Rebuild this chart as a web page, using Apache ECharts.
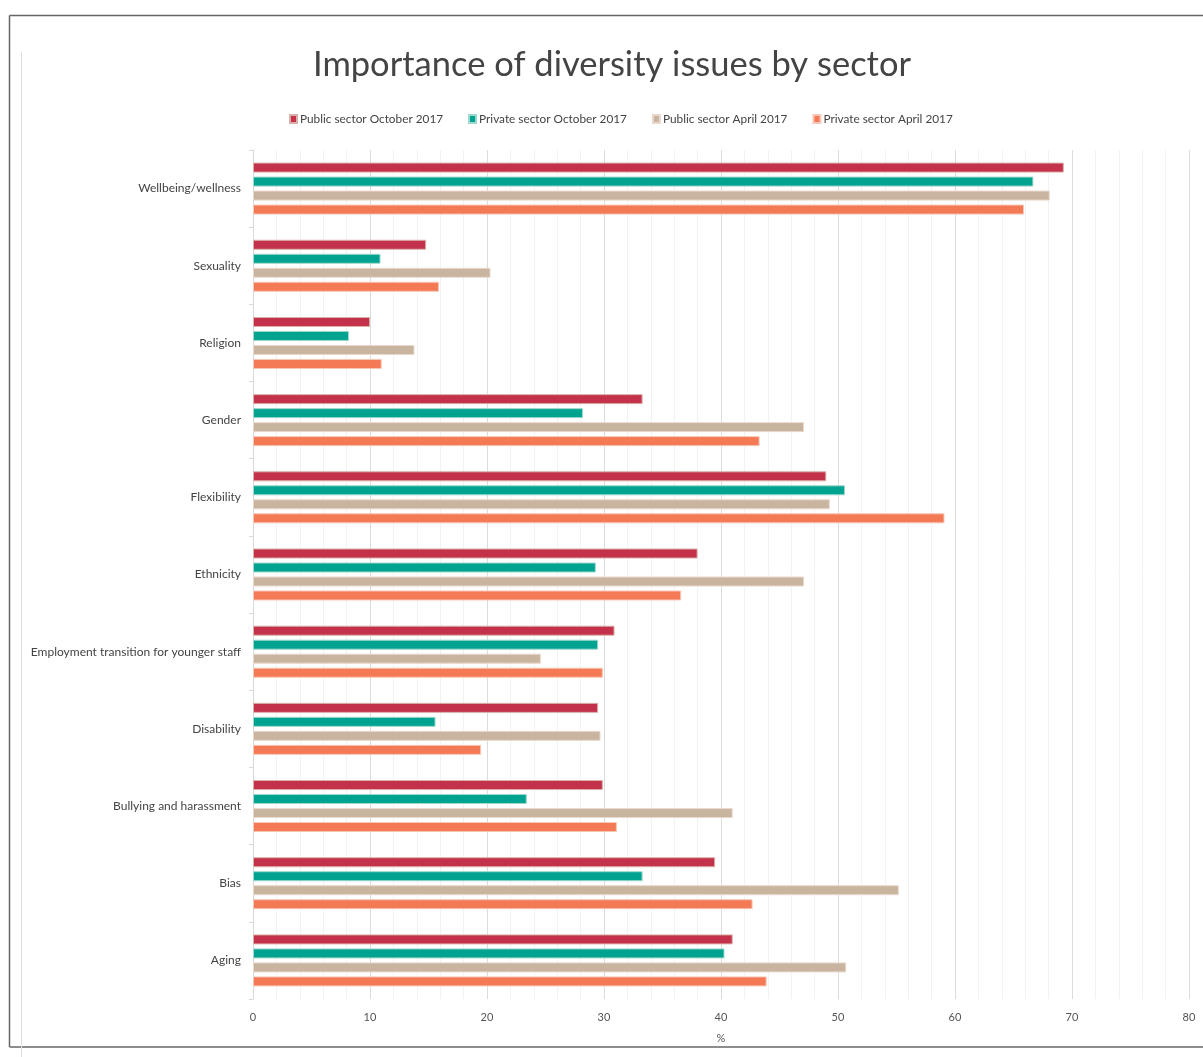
<!DOCTYPE html>
<html>
<head>
<meta charset="utf-8">
<script src="https://cdn.jsdelivr.net/npm/echarts@6/dist/echarts.min.js"></script>
<style>
html,body{margin:0;padding:0;background:#fff;}
#chart{width:1203px;height:1057px;}
</style>
</head>
<body>
<div id="chart"></div>
<script>
const categories = ["Wellbeing/wellness","Sexuality","Religion","Gender","Flexibility","Ethnicity","Employment transition for younger staff","Disability","Bullying and harassment","Bias","Aging"];
const seriesNames = ["Public sector October 2017","Private sector October 2017","Public sector April 2017","Private sector April 2017"];
const publicOct2017  = [69.3, 14.8, 10.0, 33.3, 49.0, 38.0, 30.9, 29.5, 29.9, 39.5, 41.0];
const privateOct2017 = [66.7, 10.9,  8.2, 28.2, 50.6, 29.3, 29.5, 15.6, 23.4, 33.3, 40.3];
const publicApr2017  = [68.1, 20.3, 13.8, 47.1, 49.3, 47.1, 24.6, 29.7, 41.0, 55.2, 50.7];
const privateApr2017 = [65.9, 15.9, 11.0, 43.3, 59.1, 36.6, 29.9, 19.5, 31.1, 42.7, 43.9];
const xTicks = [0,10,20,30,40,50,60,70,80];

const colors = ["#C4314B","#00A390","#C9B4A0","#F47955"];
const borders = ["#d9b0a8","#9fd8cc","#ead8cc","#f6c7b6"];
const data = [publicOct2017, privateOct2017, publicApr2017, privateApr2017];

const chart = echarts.init(document.getElementById('chart'), null, {renderer:'canvas'});
const font = 'Lato, "Open Sans", sans-serif';
chart.setOption({
  animation:false,
  backgroundColor:'#fff',
  title:{
    text:'Importance of diversity issues by sector',
    left:308, top:42,
    textStyle:{fontFamily:font, fontSize:34.5, fontWeight:'normal', color:'#444'}
  },
  legend:{
    top:108, left:284,
    itemWidth:7, itemHeight:8, itemGap:25,
    icon:'rect',
    textStyle:{fontFamily:font, fontSize:11.8, color:'#444', padding:[0,0,0,-2]},
    data:seriesNames
  },
  grid:{left:253, right:14, top:150, bottom:58, containLabel:false},
  xAxis:{
    type:'value', min:0, max:80, interval:10,
    name:'%', nameLocation:'middle', nameGap:34,
    nameTextStyle:{fontFamily:font, fontSize:11, color:'#555'},
    axisLine:{show:false}, axisTick:{show:false},
    axisLabel:{fontFamily:font, fontSize:11, color:'#555', margin:13,
      formatter:function(v){return xTicks.indexOf(v)>=0? String(v):'';}},
    splitLine:{show:true, lineStyle:{color:'#dcdcdc', width:1}},
    minorTick:{show:false, splitNumber:5},
    minorSplitLine:{show:true, lineStyle:{color:'#f2f2f2', width:1}}
  },
  yAxis:{
    type:'category', data:categories, inverse:true,
    axisLine:{show:true, lineStyle:{color:'#d9d9d9'}},
    axisTick:{show:true, length:4, lineStyle:{color:'#d9d9d9'}},
    axisLabel:{fontFamily:font, fontSize:12, color:'#444', margin:12, padding:[3,0,0,0]}
  },
  series: seriesNames.map(function(n,i){
    return {
      name:n, type:'bar', data:data[i],
      barWidth:10, barGap:'40%',
      itemStyle:{color:colors[i], borderColor:borders[i], borderWidth:1}
    };
  }),
  graphic:[
    {type:'line', shape:{x1:9.5,y1:15.5,x2:1203,y2:15.5}, style:{stroke:'#666', lineWidth:1.5}},
    {type:'line', shape:{x1:9.5,y1:15.5,x2:9.5,y2:1047}, style:{stroke:'#666', lineWidth:1.5}},
    {type:'line', shape:{x1:9.5,y1:1047,x2:1203,y2:1047}, style:{stroke:'#666', lineWidth:1.5}},
    {type:'line', shape:{x1:21.5,y1:52,x2:21.5,y2:1057}, style:{stroke:'#dddddd', lineWidth:1}}
  ]
});
</script>
</body>
</html>
